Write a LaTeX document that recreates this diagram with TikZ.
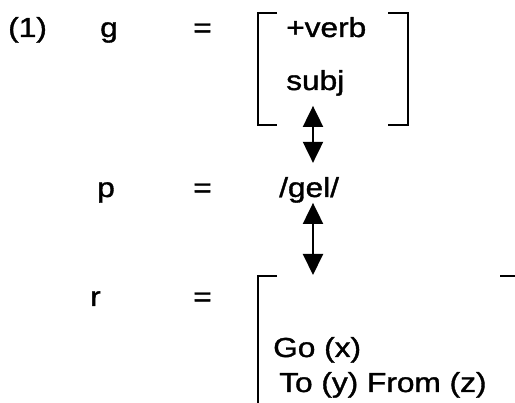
\documentclass[tikz,border=0pt]{standalone}
\usepackage{fontspec}
\setmainfont{Liberation Sans}
\newfontfamily\scanfont{Liberation Sans}[FakeBold=1.2]
\usetikzlibrary{arrows.meta}
\tikzset{
    txt/.style={anchor=base west, inner sep=0pt, xscale=1.15, transform shape,
                font=\scanfont\fontsize{27.5}{33}\selectfont},
    brk/.style={line width=2pt},
    twoway/.style={{Triangle[width=20pt,length=21pt]}-{Triangle[width=20pt,length=21pt]}, line width=2pt}
}

\begin{document}
\begin{tikzpicture}[x=1pt, y=-1pt]
    \useasboundingbox (0,0) rectangle (515,403);
    \clip (0,0) rectangle (515,403);

    \def\xeq{193}
    \def\xax{313}

    \node[txt] (num)  at (8,37)     {(1)};
    \node[txt] (g)    at (100,37)   {g};
    \node[txt] (geq)  at (\xeq,37)  {=};
    \node[txt] (verb) at (286,37)   {+verb};
    \node[txt] (subj) at (286,90)   {subj};

    \node[txt] (p)    at (97,197)   {p};
    \node[txt] (peq)  at (\xeq,197) {=};
    \node[txt] (gel)  at (279,197)  {/gel/};

    \node[txt] (r)    at (90,306)   {r};
    \node[txt] (req)  at (\xeq,306) {=};
    \node[txt] (go)   at (273,357)  {Go (x)};
    \node[txt] (tofrom) at (279,392) {To (y) From (z)};

    \coordinate (axis) at (\xax,0);
    \coordinate (rtop) at (258,276);

    \draw[brk] (277,13) -- (258,13) -- (258,125) -- (277,125);
    \draw[brk] (388,13) -- (408,13) -- (408,125) -- (388,125);
    \draw[brk] (277,276) -- (rtop) -- (258,410);
    \draw[brk] (500,276) -- (517,276) -- (517,410);

    \draw[twoway, shorten <=10pt, shorten >=14pt] (subj.south -| axis) -- (gel.north -| axis);
    \draw[twoway, shorten >=1pt] (gel.south -| axis) -- (rtop -| axis);

\end{tikzpicture}
\end{document}
